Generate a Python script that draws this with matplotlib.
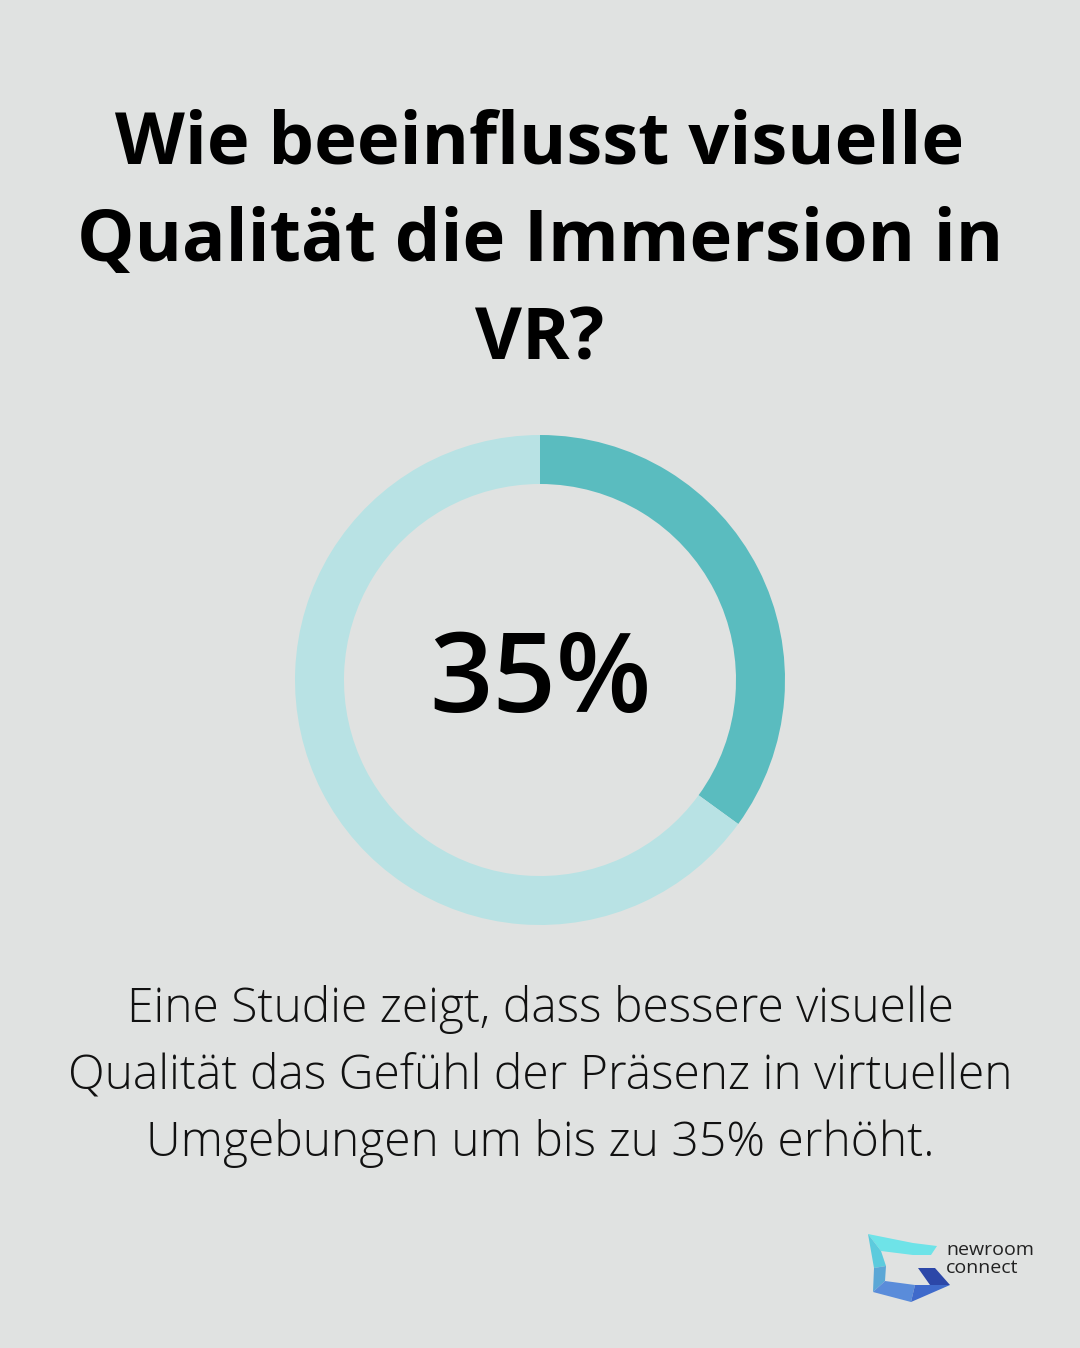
import matplotlib
matplotlib.use("Agg")
import matplotlib.pyplot as plt
from matplotlib.patches import Polygon

# ---- data ----
title_lines = ["Wie beeinflusst visuelle", "Qualität die Immersion in", "VR?"]
share_values = [35, 65]
center_label = "35%"
body_lines = ["Eine Studie zeigt, dass bessere visuelle",
              "Qualität das Gefühl der Präsenz in virtuellen",
              "Umgebungen um bis zu 35% erhöht."]
brand_lines = ["newroom", "connect"]

BG = "#E0E2E1"
DARK = "#5ABCBF"
LIGHT = "#B8E2E4"

W, H = 1080, 1348
fig = plt.figure(figsize=(W / 100, H / 100), dpi=100, facecolor=BG)

# full-figure overlay axes in pixel coordinates
ax = fig.add_axes([0, 0, 1, 1])
ax.set_xlim(0, W)
ax.set_ylim(H, 0)
ax.axis("off")
ax.set_facecolor(BG)

for i, line in enumerate(title_lines):
    ax.text(540, 144 + i * 98, line, ha="center", va="center",
            fontsize=52, fontweight="bold", family=["Open Sans", "DejaVu Sans"], color="#000000")

for i, line in enumerate(body_lines):
    ax.text(540, 1009 + i * 67, line, ha="center", va="center",
            fontsize=34.6, fontweight="light", family=["Open Sans", "DejaVu Sans"], color="#111111")

# donut
cx, cy, R, ring = 540, 680, 245, 49
pax = fig.add_axes([(cx - R) / W, (H - cy - R) / H, 2 * R / W, 2 * R / H])
pax.pie(share_values, colors=[DARK, LIGHT], startangle=90, counterclock=False,
        radius=1, wedgeprops=dict(width=ring / R, linewidth=0))
pax.set_xlim(-1, 1)
pax.set_ylim(-1, 1)
pax.set_aspect("equal")
pax.axis("off")
pax.text(0, -0.015, center_label, ha="center", va="center", fontsize=80,
         fontweight="semibold", family=["Open Sans", "DejaVu Sans"], color="#000000")

# logo
logo_polys = [
    ([(868, 1234), (913, 1243), (937, 1246), (931, 1255), (913, 1255), (881, 1251)], "#6EE3E8"),
    ([(868, 1234), (881, 1251), (886, 1266), (874, 1268)], "#5CCBDD"),
    ([(874, 1268), (886, 1266), (885, 1281), (873, 1292)], "#5BA7D6"),
    ([(873, 1292), (885, 1281), (915, 1285), (911, 1302)], "#5A8CDA"),
    ([(911, 1302), (915, 1285), (950, 1285)], "#3F6ACB"),
    ([(918, 1268), (935, 1268), (950, 1285), (930, 1285)], "#2C47A8"),
]
for pts, col in logo_polys:
    ax.add_patch(Polygon(pts, closed=True, facecolor=col, edgecolor="none"))
ax.text(946, 1250, brand_lines[0], ha="left", va="center", fontsize=14,
        family=["Open Sans", "DejaVu Sans"], color="#222222")
ax.text(946, 1268, brand_lines[1], ha="left", va="center", fontsize=14,
        family=["Open Sans", "DejaVu Sans"], color="#222222")

fig.savefig("out.png", dpi=100, facecolor=BG)
